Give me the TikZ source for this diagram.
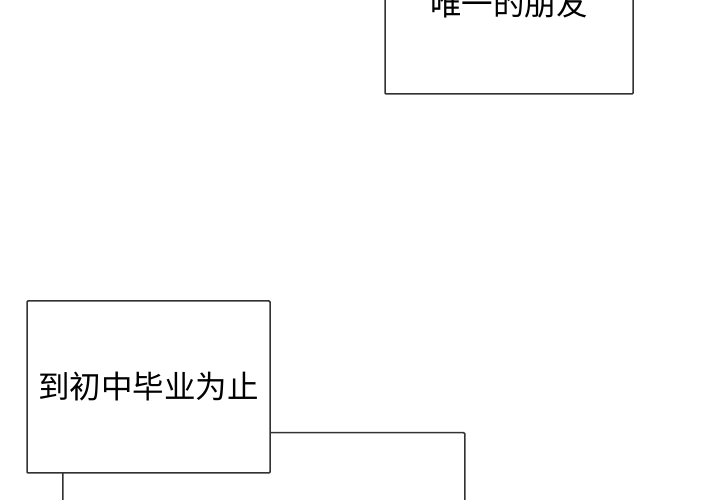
\documentclass[tikz,border=0pt]{standalone}
\usepackage{fontspec}
\newfontfamily\cjk{Noto Sans CJK SC}
\begin{document}
\begin{tikzpicture}[x=1pt,y=1pt,
  panel/.style={draw=black!80, line width=1.5pt, fill=white, rounded corners=1pt, inner sep=0pt, font=\cjk\fontsize{31.5}{36}\selectfont}]
\useasboundingbox (0,0) rectangle (720,500);
\clip (0,0) rectangle (720,500);
\fill[white] (0,0) rectangle (720,500);
% back panel
\node[panel, minimum width=402pt, minimum height=120pt, anchor=north west] (back) at (62,68) {};
% lower left panel
\node[panel, minimum width=243pt, minimum height=172pt] (low) at (148.5,113) {到初中毕业为止};
% upper right panel
\node[panel, minimum width=248pt, minimum height=180pt] (up) at (509,496) {唯一的朋友};
\end{tikzpicture}
\end{document}
